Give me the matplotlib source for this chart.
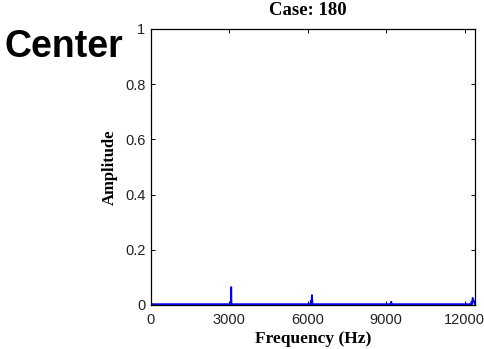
import matplotlib
matplotlib.use('Agg')
from matplotlib import pyplot as plt

# spectrum (Hz, amplitude)
freqs = [0, 3000, 3060, 3070, 3080, 6100, 6120, 6140, 6160, 6180, 9180, 9195, 9210, 12250, 12270, 12290, 12310, 12400]
amps = [0.003, 0.003, 0.003, 0.065, 0.003, 0.003, 0.015, 0.003, 0.036, 0.003, 0.003, 0.012, 0.003, 0.003, 0.012, 0.003, 0.026, 0.003]

xticks = [0, 3000, 6000, 9000, 12000]
yticks = [0, 0.2, 0.4, 0.6, 0.8, 1]
yticklabels = ['0', '0.2', '0.4', '0.6', '0.8', '1']

fig = plt.figure(figsize=(4.85, 3.49), dpi=100)
ax = fig.add_axes([151 / 485, 1 - 305 / 349, (475 - 151) / 485, (305 - 29) / 349])

ax.plot(freqs, amps, color='#0000ff', linewidth=1.3)

ax.set_xlim(0, 12400)
ax.set_ylim(0, 1)
ax.set_xticks(xticks)
ax.set_yticks(yticks)
ax.set_yticklabels(yticklabels)
ax.tick_params(direction='in', top=True, right=True, length=3, width=0.7, labelsize=10.5)
ax.tick_params(axis='x', pad=5.5)
ax.tick_params(axis='y', pad=4)
for lab in ax.get_xticklabels() + ax.get_yticklabels():
    lab.set_family('Liberation Sans')
    lab.set_color('#222222')
for s in ax.spines.values():
    s.set_linewidth(0.9)

ax.set_xlabel('Frequency (Hz)', family='Liberation Serif', fontweight='bold', fontsize=12.5, labelpad=3)
ax.set_ylabel('Amplitude', family='Liberation Serif', fontweight='bold', fontsize=12, labelpad=5)

fig.text(0.635, 1 - 15 / 349, 'Case: 180', family='Liberation Serif', fontweight='bold',
         fontsize=13.5, ha='center', va='baseline')
fig.text(5 / 485, 1 - 57 / 349, 'Center', family='Liberation Sans', fontweight='bold',
         fontsize=27, ha='left', va='baseline')

fig.savefig('out.png', dpi=100)
